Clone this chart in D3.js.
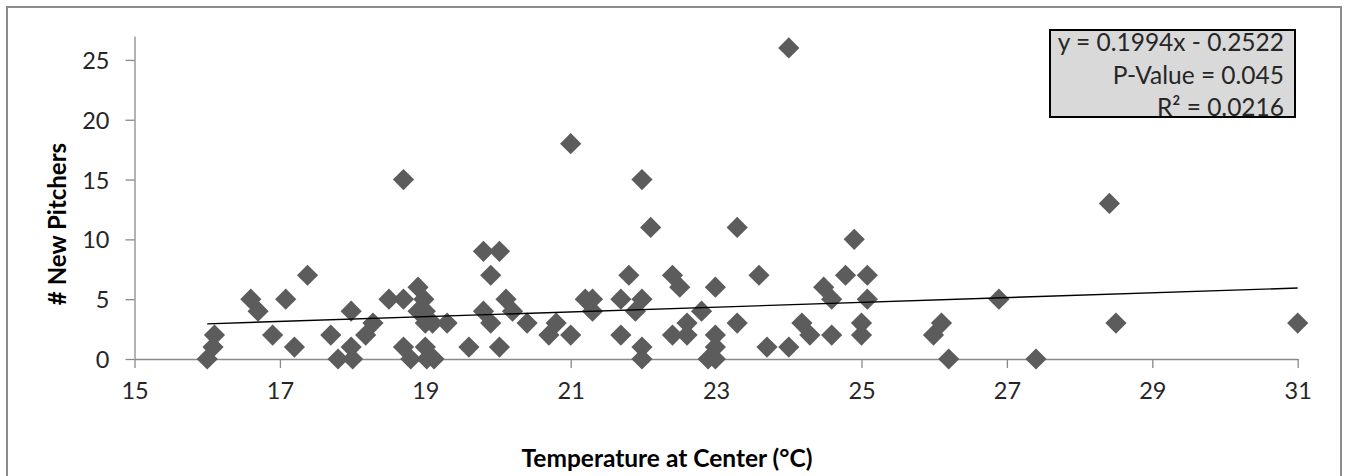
<!DOCTYPE html>
<html>
<head>
<meta charset="utf-8">
<script src="https://cdn.jsdelivr.net/npm/d3@7"></script>
<style>
  html, body { margin: 0; padding: 0; background: #fff; }
  svg { display: block; }
  text { font-family: Lato, "Open Sans", sans-serif; }
</style>
</head>
<body>
<svg id="chart" width="1348" height="476"></svg>
<script>
// Data
const temperature = [
  16.0, 16.08, 16.1, 16.6, 16.7, 16.9, 17.08, 17.2, 17.38, 17.7, 17.8, 17.98, 17.98, 18.0,
  18.18, 18.28, 18.5, 18.7, 18.7, 18.7, 18.8, 18.9, 18.9, 18.98, 19.0, 19.0, 19.0, 19.02,
  19.1, 19.12, 19.3, 19.6, 19.8, 19.8, 19.9, 19.9, 20.02, 20.02, 20.11, 20.2, 20.4, 20.7,
  20.8, 21.0, 21.0, 21.2, 21.3, 21.3, 21.69, 21.69, 21.8, 21.89, 21.98, 21.98, 21.98, 21.98,
  22.1, 22.4, 22.4, 22.5, 22.6, 22.6, 22.8, 22.89, 22.99, 22.99, 22.99, 22.99, 23.29, 23.29,
  23.59, 23.7, 24.0, 24.0, 24.18, 24.29, 24.48, 24.59, 24.59, 24.78, 24.9, 25.08, 25.08,
  25.0, 25.0, 25.99, 26.1, 26.2, 26.89, 27.4, 28.41, 28.5, 31.0
];
const newPitchers = [
  0, 1, 2, 5, 4, 2, 5, 1, 7, 2, 0, 4, 1, 0,
  2, 3, 5, 15, 5, 1, 0, 6, 4, 5, 4, 3, 1, 0,
  3, 0, 3, 1, 9, 4, 7, 3, 9, 1, 5, 4, 3, 2,
  3, 18, 2, 5, 5, 4, 5, 2, 7, 4, 5, 15, 1, 0,
  11, 7, 2, 6, 3, 2, 4, 0, 6, 2, 1, 0, 11, 3,
  7, 1, 26, 1, 3, 2, 6, 5, 2, 7, 10, 7, 5,
  3, 2, 2, 3, 0, 5, 0, 13, 3, 3
];
const xTicks = [15, 17, 19, 21, 23, 25, 27, 29, 31];
const yTicks = [0, 5, 10, 15, 20, 25];
const xDomain = [15, 31];
const yDomain = [0, 27];
const trendSlope = 0.1994;
const trendIntercept = -0.2522;
const trendRange = [16, 31];
const statLines = ["y = 0.1994x - 0.2522", "P-Value = 0.045", "R\u00B2 = 0.0216"];
const xTitle = "Temperature at Center (\u00B0C)";
const yTitle = "# New Pitchers";

const points = temperature.map((t, i) => ({ x: t, y: newPitchers[i] }));

const svg = d3.select("#chart");
const axisColor = "#8a8a8a";
const textColor = "#262626";

// Outer chart border
svg.append("rect")
  .attr("x", 7).attr("y", 7)
  .attr("width", 1334).attr("height", 480)
  .attr("fill", "#fff")
  .attr("stroke", "#8c8c8c").attr("stroke-width", 2);

const x = d3.scaleLinear().domain(xDomain).range([134.5, 1297.7]);
const y = d3.scaleLinear().domain(yDomain).range([359, 36]);

// Y axis
const yAxisG = svg.append("g").attr("transform", `translate(${x(xDomain[0])},0)`)
  .call(d3.axisLeft(y).tickValues(yTicks).tickSize(9).tickPadding(16).tickSizeOuter(0));
yAxisG.select(".domain").attr("stroke", axisColor).attr("stroke-width", 1.3);
yAxisG.selectAll(".tick line").attr("stroke", axisColor).attr("stroke-width", 1.3);
yAxisG.selectAll(".tick text")
  .attr("fill", textColor).style("font-size", "23.5px")
  .attr("dy", "0.36em");

// X axis
const xAxisG = svg.append("g").attr("transform", `translate(0,${y(0)})`)
  .call(d3.axisBottom(x).tickValues(xTicks).tickSize(9).tickPadding(14).tickSizeOuter(0));
xAxisG.select(".domain").attr("stroke", axisColor).attr("stroke-width", 1.3);
xAxisG.selectAll(".tick line").attr("stroke", axisColor).attr("stroke-width", 1.3);
xAxisG.selectAll(".tick text")
  .attr("fill", textColor).style("font-size", "23.5px");

// Markers (diamonds)
const diamond = d3.symbol().type(d3.symbolSquare).size(225);
svg.append("g").selectAll("path")
  .data(points)
  .join("path")
  .attr("d", diamond)
  .attr("transform", d => `translate(${x(d.x)},${y(d.y)}) rotate(45)`)
  .attr("fill", "#5c5c5c");

// Trend line
const line = d3.line().x(d => x(d)).y(d => y(trendSlope * d + trendIntercept));
svg.append("path")
  .datum(trendRange)
  .attr("d", line)
  .attr("fill", "none")
  .attr("stroke", "#000")
  .attr("stroke-width", 1.4);

// Stats box
svg.append("rect")
  .attr("x", 1050).attr("y", 30)
  .attr("width", 245).attr("height", 87)
  .attr("fill", "#d9d9d9")
  .attr("stroke", "#000").attr("stroke-width", 2);
svg.append("g").selectAll("text")
  .data(statLines)
  .join("text")
  .attr("x", 1284)
  .attr("y", (d, i) => 51 + i * 32.5)
  .attr("text-anchor", "end")
  .attr("fill", textColor)
  .style("font-size", "24.5px")
  .text(d => d);

// Axis titles
svg.append("text")
  .attr("x", 667).attr("y", 467)
  .attr("text-anchor", "middle")
  .attr("fill", "#000")
  .style("font-size", "24.5px").style("font-weight", "bold")
  .text(xTitle);

svg.append("text")
  .attr("transform", "translate(66,224) rotate(-90)")
  .attr("text-anchor", "middle")
  .attr("fill", "#000")
  .style("font-size", "24px").style("font-weight", "bold")
  .text(yTitle);
</script>
</body>
</html>
